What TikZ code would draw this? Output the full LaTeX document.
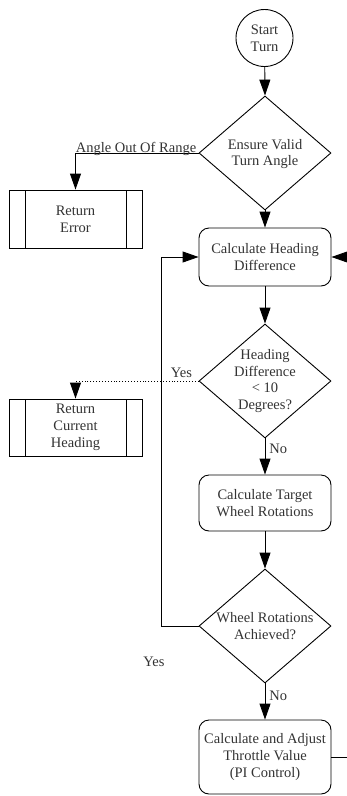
\documentclass[tikz,border=0pt]{standalone}
\usepackage{fontspec}
\setmainfont{Liberation Serif}
\usetikzlibrary{shapes.geometric,arrows.meta}
\definecolor{txt}{HTML}{333333}
\begin{document}
\begin{tikzpicture}[x=1pt,y=-1pt,
  font=\fontsize{14.5}{16.7}\selectfont,
  line width=0.9pt,
  every node/.style={text=txt},
  proc/.style={draw=black, rounded corners=10pt, minimum width=132pt,
    align=center, inner sep=0pt},
  decide/.style={draw=black, diamond, minimum width=132pt,
    minimum height=114pt, inner sep=0pt},
  dtext/.style={align=center, inner sep=0pt},
  sub/.style={draw=black, rectangle, minimum width=133pt, align=center,
    inner sep=0pt,
    path picture={
      \draw[black] ([xshift=16pt]path picture bounding box.north west)
        -- ([xshift=16pt]path picture bounding box.south west);
      \draw[black] ([xshift=-16pt]path picture bounding box.north east)
        -- ([xshift=-16pt]path picture bounding box.south east);
    }},
  term/.style={draw=black, circle, minimum size=57pt, align=center, inner sep=0pt},
  flow/.style={-{Triangle[length=16pt,width=11pt]}, draw=black},
  lbl/.style={anchor=base, inner sep=0pt}
]
\useasboundingbox (0,0) rectangle (347,796);

% nodes
\node[term] (start) at (264.5,38) {Start\\Turn};

\node[decide] (d1) at (265,153) {};
\node[dtext] (d1t) at (265,154) {Ensure Valid\\Turn Angle};

\node[sub, minimum height=58pt] (err) at (75.5,219) {Return\\Error};

\node[proc, minimum height=58pt] (hd) at (265,257) {Calculate Heading\\Difference};

\node[decide] (d2) at (265,381) {};
\node[dtext] (d2t) at (265,381) {Heading\\Difference\\\textless{} 10\\Degrees?};

\node[sub, minimum height=57pt] (ret) at (75.5,427.5) {Return\\Current\\Heading};

\node[proc, minimum height=56pt] (tgt) at (265,503) {Calculate Target\\Wheel Rotations};

\node[decide] (d3) at (265,626) {};
\node[dtext] (d3t) at (265,626) {Wheel Rotations\\Achieved?};

\node[proc, minimum height=74pt] (thr) at (265,757) {Calculate and Adjust\\Throttle Value\\(PI Control)};

% connectors
\draw[flow] (start) -- (d1.north);
\draw[flow] (d1.west) -| (err.north);
\node[lbl] (l1) at (136,152) {Angle Out Of Range};

\draw[flow] (d1.south) -- (hd.north);
\draw[flow] (hd.south) -- (d2.north);

\draw[flow, dotted] (d2.west) -| (ret.north);
\node[lbl] (l2) at (181.5,377) {Yes};

\draw[flow] (d2.south) -- (tgt.north);
\node[lbl, anchor=base west] (l3) at (269,453) {No};

\draw[flow] (tgt.south) -- (d3.north);

\coordinate (loopL) at (161,626);
\draw[flow] (d3.west) -- (loopL) |- (hd.west);
\node[lbl] (l4) at (154,666) {Yes};

\draw[flow] (d3.south) -- (thr.north);
\node[lbl, anchor=base west] (l5) at (269,700.5) {No};

\coordinate (loopR) at (365,757);
\draw[flow] (thr.east) -- (loopR) |- (hd.east);
\end{tikzpicture}
\end{document}
